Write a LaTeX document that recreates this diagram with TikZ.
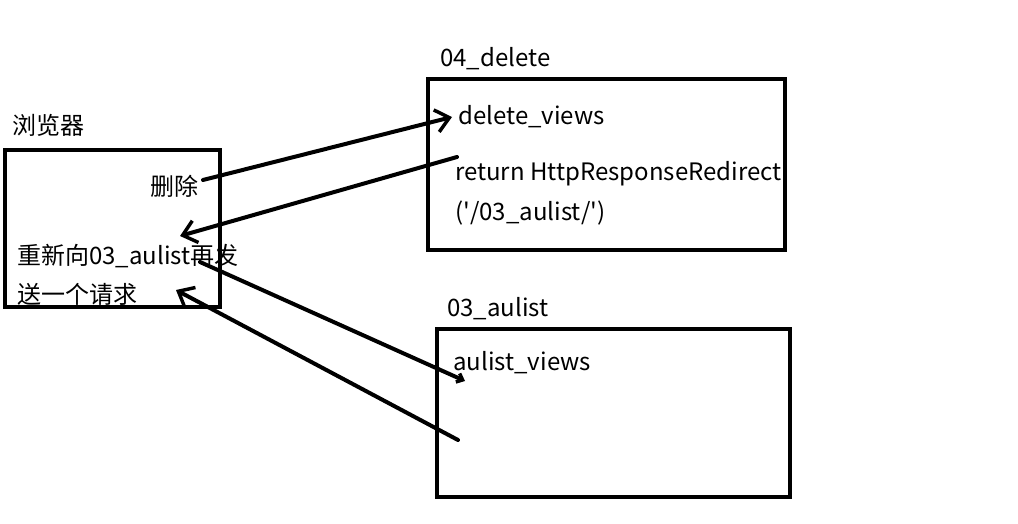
\documentclass[tikz,border=0pt]{standalone}
\usepackage{fontspec}
\setmainfont[Ligatures=TeXOff]{Noto Sans CJK SC}
\usetikzlibrary{arrows.meta}
\begin{document}
\begin{tikzpicture}[x=0.75pt,y=-0.75pt,
  box/.style={draw=black,line width=3pt},
  txt/.style={anchor=base west,inner sep=0pt,font=\fontsize{18}{21}\selectfont},
  conn/.style={line width=3pt,line cap=round,-{Straight Barb[length=10pt,width=17pt,line width=2.6pt]}},
  connsmall/.style={line width=3pt,line cap=round,-{Straight Barb[length=4pt,width=7pt,line width=2.6pt]}}]
\useasboundingbox[fill=white] (0,0) rectangle (1018,524);
% labels
\node[txt] (lbBrowser) at (12,135) {浏览器};
\node[txt] (lbDelete) at (440,67) {04\_delete};
\node[txt] (lbAulist) at (447,316) {03\_aulist};
% texts
\node[txt] (tDel) at (150,196) {删除};
\node[txt] (tRe1) at (17,264) {重新向03\_aulist再发};
\node[txt] (tRe2) at (17,303) {送一个请求};
\node[txt] (tDv) at (458,125) {delete\_views};
\node[txt] (tRet) at (455,181) {return HttpResponseRedirect};
\node[txt] (tArg) at (455,221) {('/03\_aulist/')};
\node[txt] (tAv) at (453,370) {aulist\_views};
% boxes
\draw[box] (5,150) rectangle (220,307);
\draw[box] (428,79) rectangle (785,250);
\draw[box] (437,329) rectangle (790,497);
% connector end points
\coordinate (a1s) at (203,180);
\coordinate (a1e) at (452,117);
\coordinate (a2s) at (457,157);
\coordinate (a2e) at (180,236);
\coordinate (a3s) at (200,262);
\coordinate (a3e) at (465,381);
\coordinate (a4s) at (458,440);
\coordinate (a4e) at (176,290);
\draw[conn] (a1s) -- (a1e);
\draw[conn] (a2s) -- (a2e);
\draw[connsmall] (a3s) -- (a3e);
\draw[conn] (a4s) -- (a4e);
\end{tikzpicture}
\end{document}
